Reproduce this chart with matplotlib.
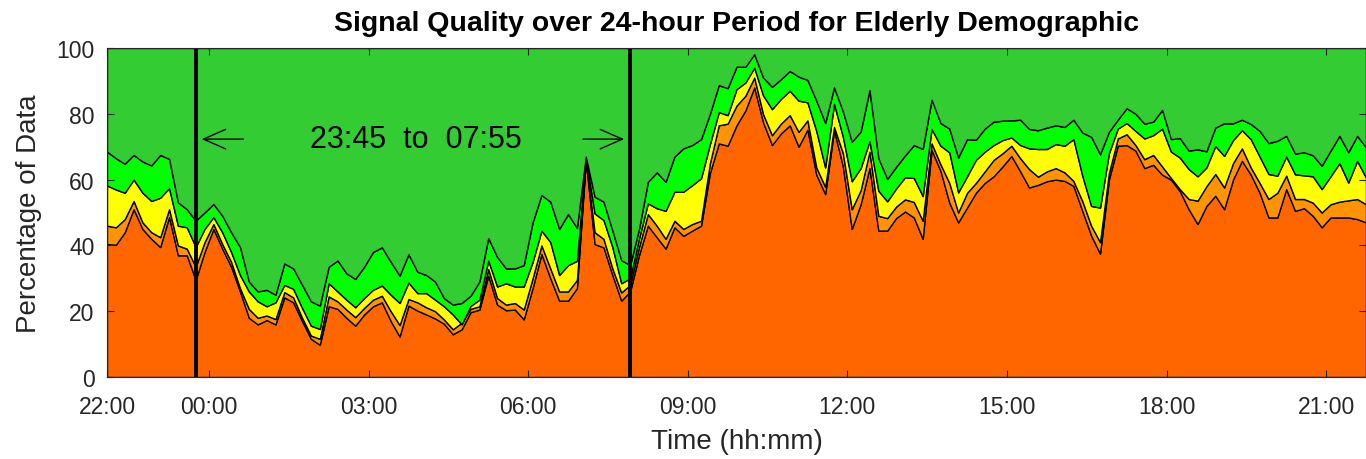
import numpy as np
import matplotlib
matplotlib.use('Agg')
import matplotlib.pyplot as plt

plt.rcParams['font.family'] = ['Liberation Sans', 'DejaVu Sans']

# samples every 10 minutes, first at 22:05, last at 21:45 next day
n_pts = 143
t_hours = (5 + 10 * np.arange(n_pts)) / 60.0   # hours after 22:00

# upper edge of each stacked band (percent)
orange_top = [
    40.4, 40.2, 44, 51, 45, 42, 39.5, 48.6, 37, 37,
    29.5, 38, 45, 39, 33.5, 26, 18, 16, 17.3, 16,
    24.2, 22.7, 17, 11.6, 9.8, 21.5, 20.7, 18, 15.6, 19,
    21.5, 22.7, 17, 12.3, 21.7, 20.2, 19, 17.8, 16.2, 13,
    14.5, 19.7, 20.5, 30.8, 22, 20.3, 20.5, 17.5, 27, 37.4,
    30, 23.2, 23.2, 27, 65.8, 40.4, 39.4, 31, 23.2, 26,
    37, 46, 42.5, 39, 45.5, 42.9, 44.5, 46, 62, 71,
    70.3, 76.5, 81, 88, 77.4, 70.5, 74, 76.5, 70, 75.2,
    61.5, 55.6, 75, 64, 45, 52.5, 63.5, 44.5, 44.5, 48.3,
    50.3, 48.5, 42, 69, 62.7, 53, 47, 51.5, 56, 59,
    61, 64, 67.2, 62.5, 57.6, 58.4, 59.5, 60, 59.6, 58.1,
    50.5, 43, 37.5, 60, 70.3, 70.5, 68.8, 63.5, 64.5, 61.5,
    60, 56.5, 51, 46.5, 52, 55.1, 51, 60, 65.7, 61.5,
    56, 48.5, 48.5, 57.1, 50.5, 51.3, 49, 45.5, 48.5, 48.5,
    48.5, 48, 47,
]
amber_top = [
    46, 45.5, 48, 53.5, 47, 44, 42.5, 51, 40, 39,
    33.5, 41, 46.5, 40.4, 35, 27, 20.7, 18, 18.7, 17.6,
    25.8, 24.2, 18, 12.6, 11.6, 24.5, 23, 20.5, 18.2, 21,
    23.5, 24.7, 20, 15.8, 23.7, 22.7, 21.2, 20, 17.5, 14.5,
    16.5, 20.7, 21.5, 32.8, 24, 22, 22.5, 20.5, 30, 40,
    33, 26, 26, 29.5, 66.2, 44, 42, 33, 25.7, 28,
    39.5, 49.5, 46, 42, 47.5, 45, 46.5, 47.5, 65, 76.5,
    77, 82.5, 85.5, 91, 79.9, 73.5, 77, 79.6, 74.5, 78,
    63.7, 57.8, 76, 68, 51, 56.8, 68.5, 49, 48.3, 51.8,
    54, 53.2, 47.5, 71, 64.7, 59, 50, 56, 59, 62.5,
    66, 68, 70.3, 66.5, 63.2, 60.9, 62.5, 63.5, 62.2, 59.6,
    53.5, 46, 41, 62, 72.5, 73.8, 70.5, 66.2, 67.5, 64,
    60.5, 57.1, 54.1, 53.6, 58, 61.7, 57.6, 65, 69.5, 63.7,
    59, 54.1, 56, 61.2, 54.1, 54.1, 53, 50, 52.5, 53.3,
    53.7, 54.1, 52.5,
]
yellow_top = [
    58.2, 57, 56, 60, 56, 53.5, 54.5, 57.4, 46, 45.5,
    39.5, 45, 48.6, 44, 38, 31, 26, 23, 21.5, 22.7,
    28, 26.8, 21, 15.6, 14.6, 28.5, 26, 23.5, 21.2, 24,
    26.5, 27.8, 25, 22.5, 28.7, 25.5, 25.5, 23.5, 21.5, 19,
    16, 21.6, 23.5, 35.4, 27.5, 28.5, 27.5, 27.5, 35, 44.5,
    41, 31, 34, 35.3, 66.6, 49.7, 47.7, 39.5, 28.5, 30,
    42, 52.8, 51.3, 50.5, 56.3, 56.3, 58.3, 60.4, 70.8, 80.5,
    79.6, 87.5, 89.5, 94, 85.6, 81.4, 84.5, 87, 84, 83.5,
    74.8, 63.7, 83, 73, 59.5, 63.5, 71.7, 56.6, 53.4, 57.3,
    60.7, 60.5, 55, 75.4, 70.3, 68.3, 56.1, 61, 66, 68.5,
    70.5, 72, 72.8, 70.5, 69.5, 69.3, 69.3, 70.8, 70.3, 72.3,
    61.2, 52, 51.5, 68, 75.5, 77.2, 74.8, 72.5, 73.5, 75.5,
    68.5, 66.7, 63.2, 61, 63.7, 70.2, 67.2, 72, 75, 72.3,
    67, 61.7, 61.2, 67, 61.6, 61.3, 61, 57.1, 61, 65,
    59.1, 65.7, 60.6,
]
lime_top = [
    68.5, 66.5, 64.8, 67.5, 65.5, 64.3, 67.5, 66.3, 53.1, 51,
    47.5, 50, 52.6, 49, 44, 39.5, 29, 26, 26.5, 25,
    34.5, 33, 28, 23, 21.7, 33.5, 35.4, 31.5, 29.8, 33.5,
    38, 39.4, 35, 30.8, 37.3, 32, 31, 29, 24, 22,
    22.5, 24.7, 29, 42.2, 36.5, 33, 33, 34, 47, 55.3,
    53.3, 45, 49.5, 45.3, 67, 54.8, 53.3, 44.5, 35.5, 34,
    45, 59.3, 62.2, 59.3, 67, 69.5, 70.5, 72.3, 80, 88.7,
    87.8, 94.3, 94.3, 98.1, 91, 88.2, 90.5, 93, 91.3, 90.3,
    84, 77.2, 88, 80.7, 71.5, 74.6, 87.2, 66.5, 60.2, 63.9,
    67.3, 70.5, 69.3, 84.3, 77.2, 75.5, 66.7, 72.3, 72.1, 75.5,
    77.6, 77.9, 78, 78.2, 75.4, 75, 75.8, 76.5, 76, 78.2,
    74.3, 73, 67.7, 74.5, 78.2, 81.7, 80, 77, 77.6, 81.2,
    72.3, 72.6, 68.8, 69.2, 68.6, 75.8, 77.1, 77.1, 78.2, 76.9,
    74.8, 71.1, 71.8, 73.3, 67.9, 68.3, 67.4, 64.2, 68.8, 73.3,
    68.3, 73.3, 69.8,
]

tick_hours = [5 / 60, 2, 5, 8, 11, 14, 17, 20, 23]
tick_labels = ['22:00', '00:00', '03:00', '06:00', '09:00', '12:00', '15:00', '18:00', '21:00']
window_start = 1.75      # 23:45
window_end = 9 + 55 / 60  # 07:55

band_colors = ['#FF6600', '#FF9400', '#FFFF00', '#00FF00', '#33CC33']

edges = np.vstack([np.zeros(n_pts), orange_top, amber_top, yellow_top, lime_top, np.full(n_pts, 100.0)])
layers = np.diff(edges, axis=0)

fig = plt.figure(figsize=(13.66, 4.6), dpi=100)
ax = fig.add_axes([107 / 1366, 82 / 460, 1259 / 1366, 329 / 460])

ax.stackplot(t_hours, layers, colors=band_colors, edgecolor='black', linewidth=1.0)

ax.axvline(window_start, color='black', lw=2.8)
ax.axvline(window_end, color='black', lw=2.8)

arrow = dict(arrowstyle='->,head_length=0.8,head_width=0.35', lw=1.0, color='black', mutation_scale=20)
ax.annotate('', xy=(window_start + 0.06, 72.3), xytext=(2.7, 72.3), arrowprops=arrow)
ax.annotate('', xy=(window_end - 0.06, 72.3), xytext=(8.98, 72.3), arrowprops=arrow)
ax.text(5.89, 72.3, '23:45  to  07:55', fontsize=22, ha='center', va='center', color='black')

ax.set_xlim(t_hours[0], t_hours[-1])
ax.set_ylim(0, 100)
ax.set_xticks(tick_hours)
ax.set_xticklabels(tick_labels)
ax.set_yticks([0, 20, 40, 60, 80, 100])

ax.tick_params(direction='in', top=True, right=True, length=5, width=0.8,
               labelsize=16.5, colors='#262626')
ax.tick_params(axis='x', pad=13)
ax.tick_params(axis='y', pad=9)
for sp in ax.spines.values():
    sp.set_color('#262626')
    sp.set_linewidth(0.8)

ax.set_title('Signal Quality over 24-hour Period for Elderly Demographic',
             fontsize=20.5, fontweight='bold', pad=13)
ax.set_xlabel('Time (hh:mm)', fontsize=20, color='#262626', labelpad=7)
ax.set_ylabel('Percentage of Data', fontsize=20, color='#262626', labelpad=10)

fig.savefig('out.png', dpi=100)
